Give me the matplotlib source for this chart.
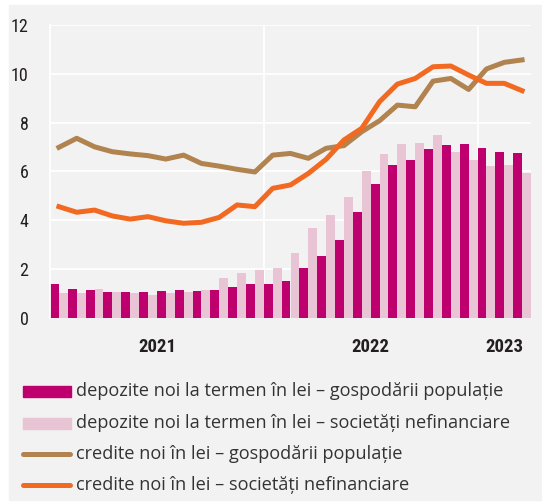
import matplotlib
matplotlib.use("Agg")
from matplotlib import pyplot as plt
from matplotlib import font_manager
from matplotlib.patches import Rectangle
from matplotlib.lines import Line2D
import numpy as np

# monthly data, Jan 2021 - Mar 2023 (percent)
dep_gosp = [1.39, 1.19, 1.15, 1.05, 1.08, 1.06, 1.12, 1.15, 1.10, 1.15, 1.25, 1.38,
            1.40, 1.53, 2.03, 2.55, 3.19, 4.35, 5.50, 6.25, 6.48, 6.93, 7.07, 7.14,
            6.96, 6.81, 6.76]
dep_soc = [1.04, 1.02, 1.20, 1.08, 1.02, 0.93, 1.01, 1.08, 1.15, 1.64, 1.83, 1.98,
           2.06, 2.67, 3.70, 4.22, 4.97, 6.02, 6.71, 7.11, 7.18, 7.48, 6.81, 6.48,
           6.21, 6.25, 5.94]
cred_gosp = [6.99, 7.36, 7.01, 6.81, 6.72, 6.65, 6.51, 6.67, 6.33, 6.22, 6.09, 5.98,
             6.67, 6.74, 6.54, 6.95, 7.06, 7.63, 8.08, 8.72, 8.65, 9.70, 9.81, 9.36,
             10.20, 10.47, 10.57]
cred_soc = [4.56, 4.33, 4.42, 4.18, 4.05, 4.15, 3.98, 3.88, 3.92, 4.12, 4.63, 4.56,
            5.31, 5.45, 5.92, 6.50, 7.29, 7.77, 8.86, 9.58, 9.81, 10.29, 10.32, 9.95,
            9.61, 9.61, 9.31]

years = ["2021", "2022", "2023"]
year_pos = [5.5, 17.5, 25.0]
year_bounds = [11.5, 23.5]

labels = ["depozite noi la termen în lei – gospodării populație",
          "depozite noi la termen în lei – societăți nefinanciare",
          "credite noi în lei – gospodării populație",
          "credite noi în lei – societăți nefinanciare"]

DARK = "#be006e"
LIGHT = "#e9c4d5"
BROWN = "#b0834f"
ORANGE = "#f26a22"
PANEL = "#f2f2f2"
W, H = 542, 504

# pick a narrow face for the numbers if one is installed
fonts = font_manager.fontManager.ttflist
names = {f.name for f in fonts}
NARROW, STRETCH = "DejaVu Sans", "normal"
if "Liberation Sans Narrow" in names:
    NARROW = "Liberation Sans Narrow"
elif "Roboto Condensed" in names:
    NARROW = "Roboto Condensed"
elif any(f.name == "DejaVu Sans" and f.stretch == "condensed" for f in fonts):
    STRETCH = "condensed"
elif "Roboto" in names:
    NARROW = "Roboto"


def px(x, y):
    # pixel position (from top-left) -> figure fraction
    return x / W, 1 - y / H


fig = plt.figure(figsize=(W / 100, H / 100), dpi=100, facecolor="white")
fig.patches.append(Rectangle(px(9, 500), (W - 9) / W, 495 / H,
                             transform=fig.transFigure, color=PANEL, zorder=-5))

ax = fig.add_axes([50 / W, 1 - 318 / H, 481 / W, 293 / H])
ax.set_facecolor(PANEL)

x = np.arange(len(dep_gosp))
ax.bar(x - 0.25, dep_gosp, width=0.5, color=DARK, zorder=2)
ax.bar(x + 0.25, dep_soc, width=0.5, color=LIGHT, zorder=2)
ax.plot(x, cred_gosp, color=BROWN, lw=3.6, solid_joinstyle="round", zorder=3)
ax.plot(x, cred_soc, color=ORANGE, lw=3.6, solid_joinstyle="round", zorder=4)

ax.set_xlim(-0.5, len(x) - 0.5)
ax.set_ylim(0, 12)
ax.set_yticks(range(0, 13, 2))
ax.set_xticks([])
ax.tick_params(axis="y", length=0, pad=15.5, labelsize=13, labelcolor="#231f20")
for t in ax.get_yticklabels():
    t.set_fontfamily(NARROW)
    t.set_fontstretch(STRETCH)

ax.set_axisbelow(True)
ax.grid(axis="y", color="white", lw=1.3, zorder=0)
for b in year_bounds:
    ax.axvline(b, color="white", lw=1.3, zorder=0)
for s in ["top", "right", "bottom"]:
    ax.spines[s].set_visible(False)
ax.spines["left"].set_color("white")
ax.spines["left"].set_linewidth(1.3)

for yr, p in zip(years, year_pos):
    ax.text(p, -29 / 293, yr, transform=ax.get_xaxis_transform(), ha="center",
            va="center", fontsize=13.5, fontweight="bold", family=NARROW,
            fontstretch=STRETCH, color="#231f20")

# legend, drawn row by row
rows_y = [391, 423, 454, 485]
for i, (lab, yy) in enumerate(zip(labels, rows_y)):
    if i < 2:
        c = DARK if i == 0 else LIGHT
        fig.patches.append(Rectangle(px(23, yy + 5.5), 48 / W, 11 / H,
                                     transform=fig.transFigure, color=c))
    else:
        c = BROWN if i == 2 else ORANGE
        x0, y0 = px(23, yy)
        x1, _ = px(70, yy)
        fig.add_artist(Line2D([x0, x1], [y0, y0], color=c, lw=3.6,
                              solid_capstyle="round", transform=fig.transFigure))
    tx, ty = px(75.5, yy)
    fig.text(tx, ty, lab, ha="left", va="center", fontsize=13.1,
             family="Open Sans", color="#333333")

fig.savefig("out.png", dpi=100, facecolor=fig.get_facecolor())
